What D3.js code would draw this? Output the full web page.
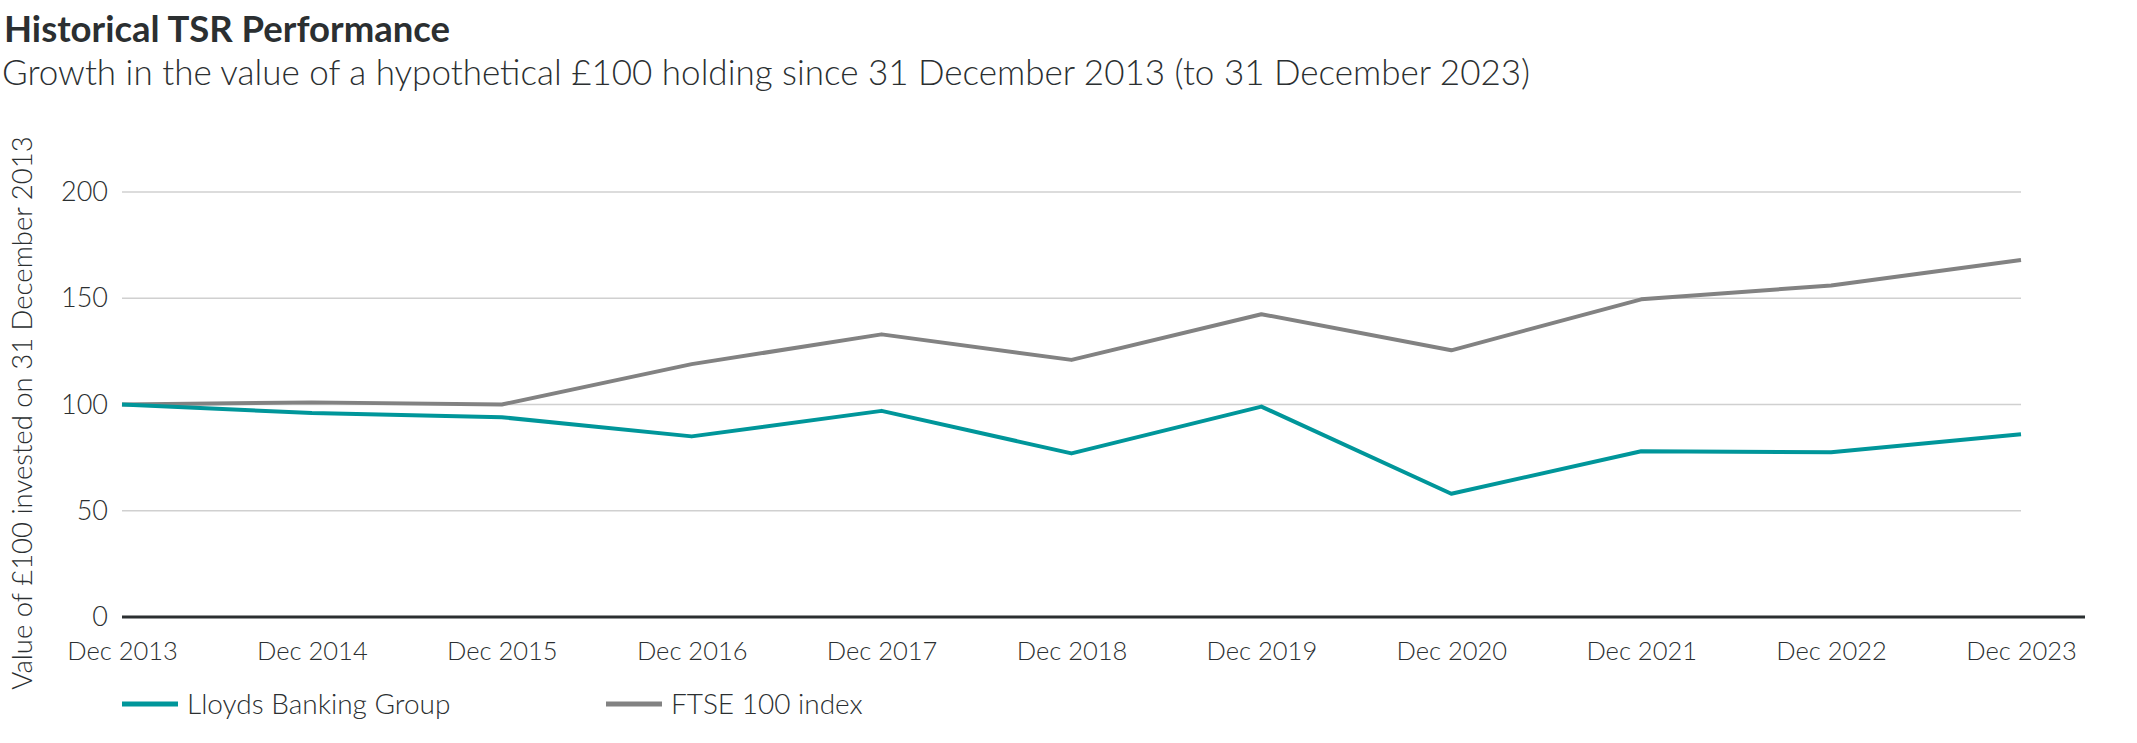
<!DOCTYPE html>
<html>
<head>
<meta charset="utf-8">
<script src="https://cdn.jsdelivr.net/npm/d3@7"></script>
<style>
  body { margin: 0; background: #fff; }
  text { font-family: Lato, "Open Sans", sans-serif; fill: #2b2f31; }
</style>
</head>
<body>
<div id="chart"></div>
<script>
var years = ['Dec 2013', 'Dec 2014', 'Dec 2015', 'Dec 2016', 'Dec 2017', 'Dec 2018',
             'Dec 2019', 'Dec 2020', 'Dec 2021', 'Dec 2022', 'Dec 2023']
var lloyds = [100, 96, 94, 85, 97, 77, 99, 58, 78, 77.5, 86]
var ftse = [100, 101, 100, 119, 133, 121, 142.5, 125.5, 149.5, 156, 168]
var yTicks = [0, 50, 100, 150, 200]
var seriesNames = ['Lloyds Banking Group', 'FTSE 100 index']
var seriesColors = ['#00969a', '#828282']

var width = 2137, height = 743
var margin = { top: 192, right: 116, bottom: 126, left: 122 }

var svg = d3.select('#chart').append('svg')
    .attr('width', width)
    .attr('height', height)

var x = d3.scalePoint().domain(years).range([margin.left, width - margin.right])
var y = d3.scaleLinear().domain([0, 200]).range([height - margin.bottom, margin.top])

// titles
svg.append('text')
    .attr('x', 4).attr('y', 42)
    .attr('font-size', '36.5px').attr('font-weight', 700)
    .text('Historical TSR Performance')
svg.append('text')
    .attr('x', 2).attr('y', 85)
    .attr('font-size', '35px').attr('font-weight', 300)
    .text('Growth in the value of a hypothetical £100 holding since 31 December 2013 (to 31 December 2023)')

// grid
svg.append('g').selectAll('line')
    .data(yTicks.filter(function (d) { return d > 0 }))
    .enter().append('line')
    .attr('x1', margin.left).attr('x2', width - margin.right)
    .attr('y1', function (d) { return y(d) }).attr('y2', function (d) { return y(d) })
    .attr('stroke', '#d0d0d0').attr('stroke-width', 1.5)

// y axis labels
var yAxis = svg.append('g')
    .attr('transform', 'translate(' + margin.left + ',0)')
    .call(d3.axisLeft(y).tickValues(yTicks).tickSize(0).tickPadding(14))
yAxis.select('.domain').remove()
yAxis.selectAll('text').attr('font-size', '27px').attr('font-weight', 300)
    .attr('font-family', null).attr('fill', '#2b2f31')

// x axis
var xAxis = svg.append('g')
    .attr('transform', 'translate(0,' + y(0) + ')')
    .call(d3.axisBottom(x).tickSize(0).tickPadding(25))
xAxis.select('.domain').remove()
xAxis.selectAll('text').attr('font-size', '25.5px').attr('font-weight', 300)
    .attr('font-family', null).attr('fill', '#2b2f31')

svg.append('line')
    .attr('x1', margin.left).attr('x2', 2085)
    .attr('y1', y(0)).attr('y2', y(0))
    .attr('stroke', '#2b2f31').attr('stroke-width', 3)

// y axis title
svg.append('text')
    .attr('transform', 'translate(32,' + 413 + ') rotate(-90)')
    .attr('text-anchor', 'middle')
    .attr('font-size', '27.5px').attr('font-weight', 300)
    .text('Value of £100 invested on 31 December 2013')

// lines
var line = d3.line()
    .x(function (d, i) { return x(years[i]) })
    .y(function (d) { return y(d) })

;[ftse, lloyds].forEach(function (s, k) {
    svg.append('path')
        .datum(s)
        .attr('fill', 'none')
        .attr('stroke', seriesColors[1 - k])
        .attr('stroke-width', 4)
        .attr('stroke-linejoin', 'round')
        .attr('d', line)
})

// legend
var legendX = [122, 606]
var legend = svg.append('g').selectAll('g')
    .data(seriesNames)
    .enter().append('g')
    .attr('transform', function (d, i) { return 'translate(' + legendX[i] + ',704)' })
legend.append('line')
    .attr('x1', 0).attr('x2', 56)
    .attr('stroke', function (d, i) { return seriesColors[i] })
    .attr('stroke-width', 5)
legend.append('text')
    .attr('x', 65).attr('y', 10)
    .attr('font-size', '28px').attr('font-weight', 300)
    .text(function (d) { return d })
</script>
</body>
</html>
